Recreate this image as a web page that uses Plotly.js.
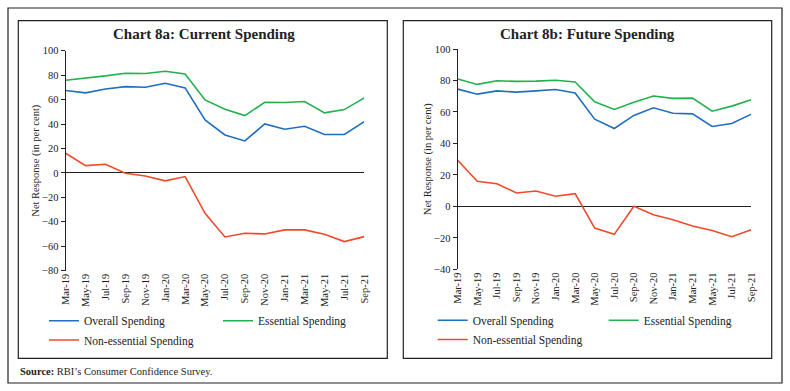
<!DOCTYPE html>
<html>
<head>
<meta charset="utf-8">
<script src="https://cdn.plot.ly/plotly-3.0.1.min.js"></script>
<style>
html,body{margin:0;padding:0;background:#fff;}
#chart{width:790px;height:391px;}
</style>
</head>
<body>
<div id="chart"></div>
<script>
// ---- Data ----
const months = ["Mar-19","May-19","Jul-19","Sep-19","Nov-19","Jan-20","Mar-20","May-20","Jul-20","Sep-20","Nov-20","Jan-21","Mar-21","May-21","Jul-21","Sep-21"];

// Chart 8a: Current Spending
const curOverall   = [67.4, 65.5, 68.7, 70.6, 70.1, 73.4, 69.6, 43.4, 31.1, 26.2, 40.1, 35.7, 38.2, 31.4, 31.4, 42.0];
const curEssential = [75.8, 77.5, 79.4, 81.6, 81.3, 83.2, 81.0, 59.7, 52.1, 46.9, 57.8, 57.6, 58.4, 49.1, 51.8, 61.4];
const curNonEss    = [16.1, 6.0, 7.1, -0.3, -2.5, -6.5, -3.0, -33.0, -52.4, -49.4, -49.9, -46.6, -46.6, -50.2, -56.2, -52.1];

// Chart 8b: Future Spending
const futOverall   = [74.5, 71.3, 73.4, 72.6, 73.4, 74.3, 72.0, 55.4, 49.5, 57.8, 62.6, 59.2, 58.8, 50.8, 52.7, 58.6];
const futEssential = [80.9, 77.5, 79.8, 79.4, 79.6, 80.1, 79.0, 66.4, 61.6, 66.2, 70.1, 68.6, 68.8, 60.5, 63.7, 67.7];
const futNonEss    = [29.3, 15.9, 14.4, 8.5, 9.8, 6.4, 8.1, -13.8, -17.8, 0.0, -5.3, -8.5, -12.5, -15.3, -19.3, -14.8];

const seriesNames = ["Overall Spending", "Essential Spending", "Non-essential Spending"];
const titles = ["Chart 8a: Current Spending", "Chart 8b: Future Spending"];
const yTitle = "Net Response (in per cent)";
const sourceText = "<b>Source:</b> RBI’s Consumer Confidence Survey.";

// ---- Styles ----
const colors = ["#1f6fc0", "#22b14c", "#f04a2a"];
const FONT = "Liberation Serif, Times New Roman, serif";
const W = 790, H = 391;
const px = v => v / W;          // x pixel -> paper
const py = v => (H - v) / H;    // y pixel (from top) -> paper

function tr(x, y, name, color, xa, ya, legend) {
  return {x: x, y: y, name: name, type: "scatter", mode: "lines",
          line: {color: color, width: 1.6}, xaxis: xa, yaxis: ya,
          legend: legend, hoverinfo: "x+y+name"};
}

const data = [
  tr(months, curOverall,   seriesNames[0], colors[0], "x", "y", "legend"),
  tr(months, curEssential, seriesNames[1], colors[1], "x", "y", "legend"),
  tr(months, curNonEss,    seriesNames[2], colors[2], "x", "y", "legend2"),
  tr(months, futOverall,   seriesNames[0], colors[0], "x2", "y2", "legend3"),
  tr(months, futEssential, seriesNames[1], colors[1], "x2", "y2", "legend3"),
  tr(months, futNonEss,    seriesNames[2], colors[2], "x2", "y2", "legend4"),
];

const tickFont = {family: FONT, size: 10.5, color: "#222"};

function xMain(domain, anchor) {
  return {domain: domain, anchor: anchor, type: "category", range: [0, 15],
          showline: false, ticks: "", tickangle: -90, tickfont: tickFont,
          showgrid: false, zeroline: false, fixedrange: true};
}
// axis line drawn across y = 0 (with small tick marks), on its own helper subplot
function xZero(domain, anchor) {
  return {domain: domain, anchor: anchor,
          type: "linear", range: [0, 15], tick0: 0, dtick: 1,
          showline: true, linecolor: "#222", linewidth: 1,
          ticks: "outside", ticklen: 3, tickcolor: "#222",
          showticklabels: false, showgrid: false, zeroline: false};
}
function yZero(domain, anchor) {
  return {domain: domain, anchor: anchor, range: [0, 1], visible: true,
          showline: false, ticks: "", showticklabels: false,
          showgrid: false, zeroline: false};
}
function yAx(domain, anchor, range) {
  return {domain: domain, anchor: anchor, range: range, dtick: 20,
          showline: true, linecolor: "#222", linewidth: 1,
          ticks: "outside", ticklen: 4, tickcolor: "#222",
          tickfont: tickFont, showgrid: false,
          zeroline: true, zerolinecolor: "#222", zerolinewidth: 1,
          title: {text: yTitle, font: {family: FONT, size: 10.5, color: "#222"}, standoff: 0}};
}

const domA = [px(65.7), px(364.3)];
const domB = [px(457.7), px(751.3)];
const yDomA = [py(270.7), py(50.7)];
const yDomB = [py(269.3), py(49)];
const rangeA = [-80, 100];
const rangeB = [-40, 100];
const zeroA = yDomA[0] + (yDomA[1] - yDomA[0]) * (-rangeA[0] / (rangeA[1] - rangeA[0]));
const zeroB = yDomB[0] + (yDomB[1] - yDomB[0]) * (-rangeB[0] / (rangeB[1] - rangeB[0]));

const legFont = {family: FONT, size: 11.5, color: "#222"};
function leg(x, y, ew) {
  const o = {x: x, y: y, xanchor: "left", yanchor: "middle", orientation: "h",
             font: legFont, bgcolor: "rgba(0,0,0,0)", borderwidth: 0, tracegroupgap: 0};
  if (ew) { o.entrywidth = ew; o.entrywidthmode = "pixels"; }
  return o;
}

function frame(x0, y0, x1, y1) {
  return {type: "rect", xref: "paper", yref: "paper",
          x0: px(x0), x1: px(x1), y0: py(y1), y1: py(y0),
          line: {color: "#222", width: 1.2}, fillcolor: "rgba(0,0,0,0)", layer: "below"};
}

const layout = {
  width: W, height: H,
  margin: {l: 0, r: 0, t: 0, b: 0},
  paper_bgcolor: "#fff", plot_bgcolor: "rgba(0,0,0,0)",
  font: {family: FONT, color: "#222"},
  showlegend: true,
  xaxis: xMain(domA, "y"),
  yaxis: yAx(yDomA, "x", rangeA),
  xaxis2: xMain(domB, "y2"),
  yaxis2: yAx(yDomB, "x2", rangeB),
  xaxis3: xZero(domA, "y3"),
  yaxis3: yZero([zeroA, yDomA[1]], "x3"),
  xaxis4: xZero(domB, "y4"),
  yaxis4: yZero([zeroB, yDomB[1]], "x4"),
  legend:  leg(px(44), py(320.7), 129),
  legend2: leg(px(44), py(340)),
  legend3: leg(px(432.7), py(320.3), 126),
  legend4: leg(px(432.7), py(339.5)),
  shapes: [
    frame(8, 8, 782, 383),
    frame(18.3, 20.7, 387.3, 358.3),
    frame(403.3, 20.7, 771.7, 358.3),
  ],
  annotations: [
    {text: "<b>" + titles[0] + "</b>", xref: "paper", yref: "paper", x: px(204), y: py(34),
     xanchor: "center", yanchor: "middle", showarrow: false,
     font: {family: FONT, size: 15, color: "#222"}},
    {text: "<b>" + titles[1] + "</b>", xref: "paper", yref: "paper", x: px(587.6), y: py(34),
     xanchor: "center", yanchor: "middle", showarrow: false,
     font: {family: FONT, size: 15, color: "#222"}},
    {text: sourceText, xref: "paper", yref: "paper", x: px(18), y: py(371.5),
     xanchor: "left", yanchor: "middle", showarrow: false,
     font: {family: FONT, size: 10.5, color: "#222"}},
  ],
};

Plotly.newPlot("chart", data, layout, {displayModeBar: false, staticPlot: true});
</script>
</body>
</html>
